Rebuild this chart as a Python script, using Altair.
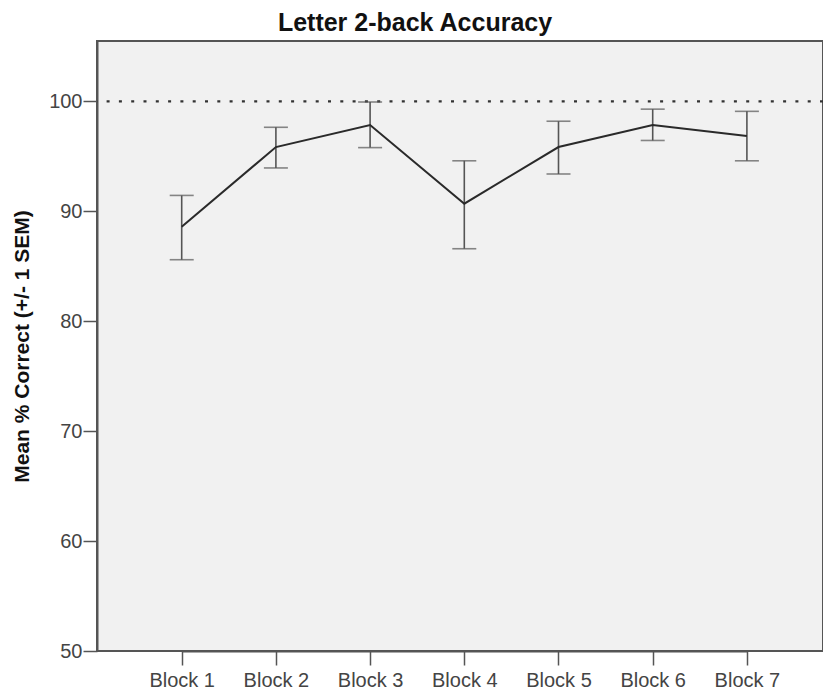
import altair as alt
import pandas as pd

blocks = ["Block 1", "Block 2", "Block 3", "Block 4", "Block 5", "Block 6", "Block 7"]
means = [88.6, 95.85, 97.85, 90.7, 95.85, 97.85, 96.85]
upper = [91.45, 97.65, 99.95, 94.6, 98.2, 99.3, 99.1]
lower = [85.6, 93.95, 95.8, 86.6, 93.4, 96.45, 94.6]
reference_value = [100]

df = pd.DataFrame({"block": blocks, "mean": means, "hi": upper, "lo": lower})
ref = pd.DataFrame({"y": reference_value})

FONT = "Liberation Sans"

x_enc = alt.X(
    "block:N",
    sort=blocks,
    scale=alt.Scale(type="point", range=[84.7, 649.9], padding=0),
    axis=alt.Axis(
        title=None, labelAngle=0, labelFontSize=20, labelColor="#444444",
        labelFont=FONT, tickSize=14, tickColor="#555555", tickWidth=1.5,
        domainColor="#555555", domainWidth=2, labelPadding=21,
        labelBaseline="alphabetic", grid=False,
    ),
)
y_scale = alt.Scale(domain=[50, 105.5], nice=False, zero=False)
y_axis = alt.Axis(
    values=[50, 60, 70, 80, 90, 100], title="Mean % Correct (+/- 1 SEM)",
    titleFont=FONT, titleFontSize=21, titleFontWeight="bold", titleColor="#111111",
    titleAngle=270, titleX=-75, titleY=305, titleAlign="center", titleBaseline="middle",
    labelFontSize=20, labelColor="#444444", labelFont=FONT, tickSize=14,
    tickColor="#555555", tickWidth=1.5, domainColor="#555555", domainWidth=2,
    labelPadding=1, grid=False,
)

base = alt.Chart(df)

refline = alt.Chart(ref).mark_rule(
    color="#333333", strokeWidth=2.2, strokeDash=[3, 9.3]
).encode(y=alt.Y("y:Q", scale=y_scale, axis=y_axis))

rules = base.mark_rule(color="#555555", strokeWidth=1.6).encode(
    x=x_enc, y=alt.Y("lo:Q", scale=y_scale), y2="hi:Q"
)
cap_hi = base.mark_tick(color="#555555", size=24, thickness=1.6, orient="horizontal").encode(
    x=x_enc, y=alt.Y("hi:Q", scale=y_scale)
)
cap_lo = base.mark_tick(color="#555555", size=24, thickness=1.6, orient="horizontal").encode(
    x=x_enc, y=alt.Y("lo:Q", scale=y_scale)
)
line = base.mark_line(color="#2a2a2a", strokeWidth=2).encode(
    x=x_enc, y=alt.Y("mean:Q", scale=y_scale)
)

chart = alt.layer(refline, rules, cap_hi, cap_lo, line).properties(
    width=726,
    height=610,
    autosize=alt.AutoSizeParams(type="none"),
    padding={"left": 89, "top": 33, "right": 0, "bottom": 39},
    background="white",
    title=alt.TitleParams(
        "Letter 2-back Accuracy", font=FONT, fontSize=25, fontWeight="bold",
        color="#111111", anchor="middle", dx=-45, offset=5,
    ),
).configure_view(
    fill="#f1f1f1", stroke="#555555", strokeWidth=2
)

chart.save("out.html", embed_options={"renderer": "svg", "actions": False})
